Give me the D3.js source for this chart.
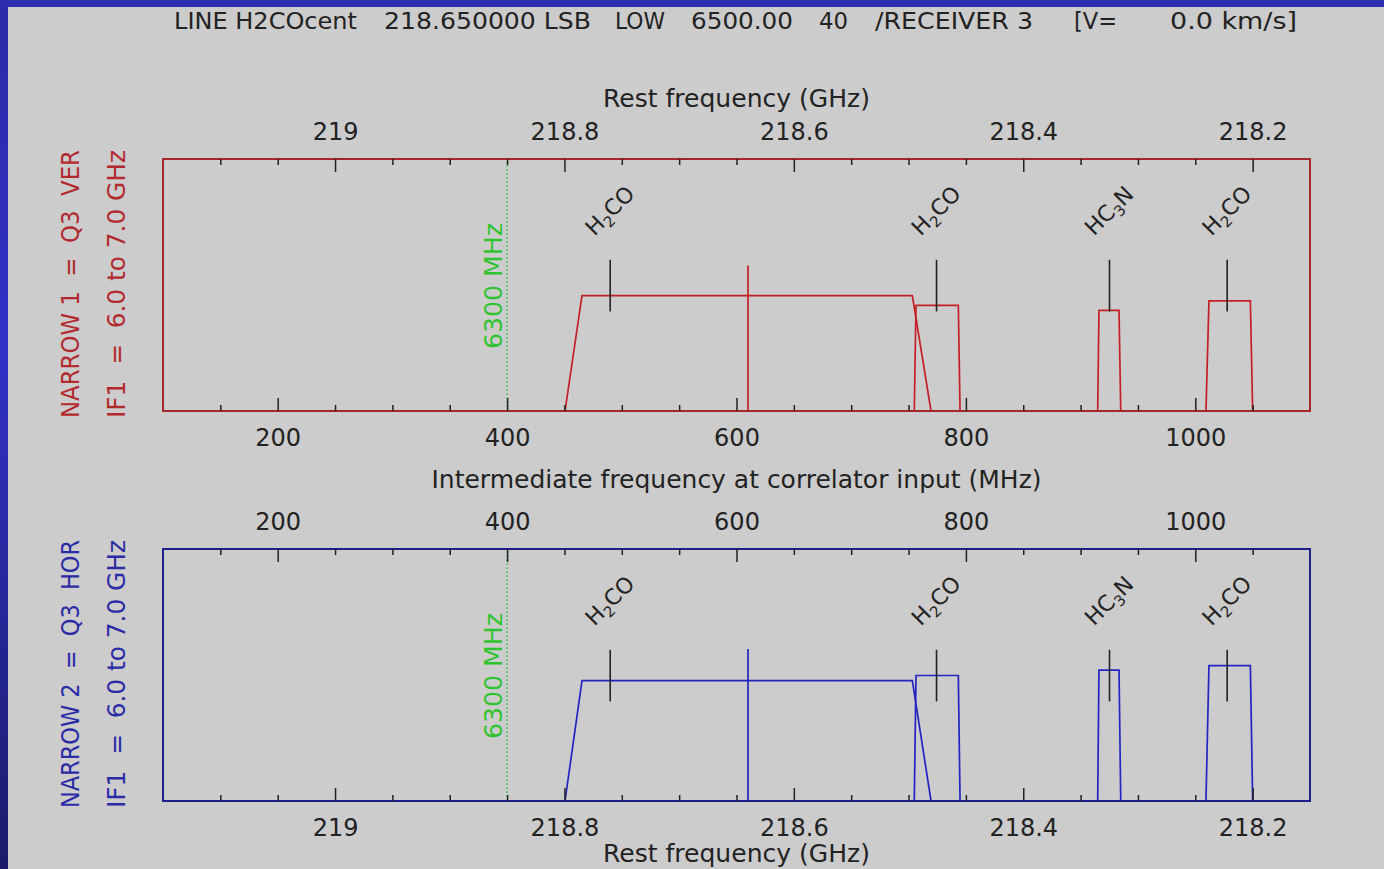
<!DOCTYPE html>
<html>
<head>
<meta charset="utf-8">
<script src="https://cdn.jsdelivr.net/npm/d3@7"></script>
<style>
  html, body { margin: 0; padding: 0; background: #cccccc; overflow: hidden; }
  svg { display: block; }
  text { font-family: "DejaVu Sans", "Liberation Sans", sans-serif; fill: #222; }
</style>
</head>
<body>
<svg id="chart" width="1384" height="869"></svg>
<script>
// ---- Correlator windows (IF at correlator input, MHz) ----
// each window: foot-low, shoulder-low, shoulder-high, foot-high
const windowEdgesMHz = [
  [450.5, 465.3, 753.3, 769.6],
  [755.0, 756.5, 793.4, 794.9],
  [914.9, 916.0, 933.5, 935.0],
  [1009.3, 1011.9, 1048.0, 1050.0]
];
// relative heights of the windows in each narrow-band unit
const levelsNarrow1 = [0.458, 0.419, 0.399, 0.437];
const levelsNarrow2 = [0.478, 0.498, 0.519, 0.537];

// tuning centre mark
const centreMarkMHz = 610;
const centreMarkLevels = [0.577, 0.603];

// spectral lines (rest frequency, GHz)
const lineNames = ["H2CO", "H2CO", "HC3N", "H2CO"];
const lineRestGHz = [218.7601, 218.4756, 218.3248, 218.2222];
const lineMarkRange = [0.395, 0.6];

// IF1 marker
const ifMarkerMHz = 400;
const ifMarkerLabel = "6300 MHz";

// axis ticks
const ifTickValues = [200, 400, 600, 800, 1000];
const ifTickLabels = ["200", "400", "600", "800", "1000"];
const restTickValues = [219, 218.8, 218.6, 218.4, 218.2];
const restTickLabels = ["219", "218.8", "218.6", "218.4", "218.2"];

const ifDomain = [100, 1100];
const restDomain = [219.15, 218.15];

const headerParts = [
  ["LINE H2COcent", 174, 183],
  ["218.650000 LSB", 384, 207],
  ["LOW", 615, 50],
  ["6500.00", 691, 102],
  ["40", 819, 29],
  ["/RECEIVER 3", 875, 158],
  ["[V=", 1074, 43],
  ["0.0 km/s]", 1170, 127]
];

const units = [
  { top: 159, bottom: 411, frame: "#a3282b", line: "#c41f25", text: "#b22a2e",
    label1: "NARROW 1  =  Q3  VER", label2: "IF1  =  6.0 to 7.0 GHz",
    levels: levelsNarrow1, centre: centreMarkLevels[0], topAxis: "rest" },
  { top: 549, bottom: 801, frame: "#1f1f8c", line: "#2424c2", text: "#2b2ba6",
    label1: "NARROW 2  =  Q3  HOR", label2: "IF1  =  6.0 to 7.0 GHz",
    levels: levelsNarrow2, centre: centreMarkLevels[1], topAxis: "if" }
];

const svg = d3.select("#chart");
const W = 1384, H = 869;

// page background with the blue border strip
const defs = svg.append("defs");
const grad = defs.append("linearGradient").attr("id", "edge")
  .attr("x1", 0).attr("y1", 0).attr("x2", 0).attr("y2", 1);
grad.append("stop").attr("offset", "0%").attr("stop-color", "#2a2aa6");
grad.append("stop").attr("offset", "40%").attr("stop-color", "#3131c8");
grad.append("stop").attr("offset", "100%").attr("stop-color", "#1b1b6a");

svg.append("rect").attr("width", W).attr("height", H).attr("fill", "#cccccc");
svg.append("rect").attr("x", 0).attr("y", 0).attr("width", 8).attr("height", H).attr("fill", "url(#edge)");
svg.append("rect").attr("x", 0).attr("y", 0).attr("width", W).attr("height", 7).attr("fill", "#2c2cb0");

// header line
const header = svg.append("g");
headerParts.forEach(([t, x0, len]) => {
  header.append("text")
    .attr("x", x0).attr("y", 29)
    .attr("textLength", len).attr("lengthAdjust", "spacingAndGlyphs")
    .style("font-size", "23px")
    .text(t);
});

const x = d3.scaleLinear().domain(ifDomain).range([163, 1310]);
const xRest = d3.scaleLinear().domain(restDomain).range([163, 1310]);

const ifMinor = d3.range(150, 1051, 50).filter(v => !ifTickValues.includes(v));
const restMinor = d3.range(0, 19).map(k => +(219.1 - k * 0.05).toFixed(2))
  .filter(v => !restTickValues.some(t => Math.abs(t - v) < 1e-6));

function styleAxis(g) {
  g.select(".domain").remove();
  g.attr("font-family", null).attr("font-size", null);
  g.selectAll(".tick line").attr("stroke", "#222").attr("stroke-width", 1.5);
  g.selectAll(".tick text").attr("fill", "#222").style("font-size", "24px");
}

function drawAxis(parent, which, side, yPos) {
  const scale = which === "if" ? x : xRest;
  const major = which === "if" ? ifTickValues : restTickValues;
  const labels = which === "if" ? ifTickLabels : restTickLabels;
  const minor = which === "if" ? ifMinor : restMinor;
  const gen = side === "top" ? d3.axisTop : d3.axisBottom;

  const gMin = parent.append("g").attr("transform", `translate(0,${yPos})`)
    .call(gen(scale).tickValues(minor).tickFormat("").tickSize(-6));
  styleAxis(gMin);

  const gMaj = parent.append("g").attr("transform", `translate(0,${yPos})`)
    .call(gen(scale).tickValues(major)
      .tickFormat(d => labels[major.findIndex(t => Math.abs(t - d) < 1e-9)])
      .tickSize(-13).tickPadding(19));
  styleAxis(gMaj);
  if (side === "bottom") {
    gMaj.selectAll(".tick text").attr("y", 35).attr("dy", null);
  } else {
    gMaj.selectAll(".tick text").attr("y", -19).attr("dy", null);
  }
}

function addLineName(sel, name, size) {
  const parts = name.match(/[A-Za-z]+|[0-9]+/g);
  let shifted = false;
  parts.forEach(p => {
    const isSub = /^[0-9]+$/.test(p);
    const ts = sel.append("tspan").text(p);
    if (isSub) {
      ts.style("font-size", (size * 0.68) + "px").attr("dy", 5);
      shifted = true;
    } else if (shifted) {
      ts.attr("dy", -5);
      shifted = false;
    }
  });
}

units.forEach(u => {
  const g = svg.append("g");
  const y = d3.scaleLinear().domain([0, 1]).range([u.bottom, u.top]);

  // IF1 marker
  g.append("line")
    .attr("x1", x(ifMarkerMHz)).attr("x2", x(ifMarkerMHz))
    .attr("y1", y(0)).attr("y2", y(1))
    .attr("stroke", "#2fc42f").attr("stroke-width", 1.5)
    .attr("stroke-dasharray", "1.5,2.5");
  g.append("text")
    .attr("transform", `translate(${x(ifMarkerMHz) - 5},${(u.top + u.bottom) / 2 + 1}) rotate(-90)`)
    .attr("text-anchor", "middle")
    .attr("textLength", 126).attr("lengthAdjust", "spacingAndGlyphs")
    .style("font-size", "24px").style("fill", "#2fc42f")
    .text(ifMarkerLabel);

  // correlator windows
  const path = d3.line().x(d => x(d[0])).y(d => y(d[1]));
  windowEdgesMHz.forEach((e, i) => {
    const lv = u.levels[i];
    g.append("path")
      .attr("d", path([[e[0], 0], [e[1], lv], [e[2], lv], [e[3], 0]]))
      .attr("fill", "none").attr("stroke", u.line).attr("stroke-width", 1.7);
  });

  // tuning centre
  g.append("line")
    .attr("x1", x(centreMarkMHz)).attr("x2", x(centreMarkMHz))
    .attr("y1", y(0)).attr("y2", y(u.centre))
    .attr("stroke", u.line).attr("stroke-width", 1.7);

  // spectral lines
  lineRestGHz.forEach((f, i) => {
    g.append("line")
      .attr("x1", xRest(f)).attr("x2", xRest(f))
      .attr("y1", y(lineMarkRange[0])).attr("y2", y(lineMarkRange[1]))
      .attr("stroke", "#222").attr("stroke-width", 1.6);
    const t = g.append("text")
      .attr("transform", `translate(${xRest(f) + 5},${u.top + 57}) rotate(-45)`)
      .attr("text-anchor", "middle")
      .style("font-size", "22px");
    addLineName(t, lineNames[i], 22);
  });

  // frame
  g.append("rect")
    .attr("x", 163).attr("y", u.top)
    .attr("width", 1310 - 163).attr("height", u.bottom - u.top)
    .attr("fill", "none").attr("stroke", u.frame).attr("stroke-width", 2);

  // axes
  if (u.topAxis === "rest") {
    drawAxis(g, "rest", "top", u.top);
    drawAxis(g, "if", "bottom", u.bottom);
  } else {
    drawAxis(g, "if", "top", u.top);
    drawAxis(g, "rest", "bottom", u.bottom);
  }

  // unit labels
  const cy = (u.top + u.bottom) / 2 - 1;
  [[u.label1, 79], [u.label2, 125]].forEach(([t, bx]) => {
    g.append("text")
      .attr("transform", `translate(${bx},${cy}) rotate(-90)`)
      .attr("text-anchor", "middle")
      .attr("textLength", 268).attr("lengthAdjust", "spacingAndGlyphs")
      .attr("xml:space", "preserve").style("white-space", "pre")
      .style("font-size", "24px").style("fill", u.text)
      .text(t);
  });
});

// axis titles
const titles = [
  ["Rest frequency (GHz)", 107, 267],
  ["Intermediate frequency at correlator input (MHz)", 488, 610],
  ["Rest frequency (GHz)", 862, 267]
];
titles.forEach(([t, by, len]) => {
  svg.append("text")
    .attr("x", 736.5).attr("y", by)
    .attr("text-anchor", "middle")
    .attr("textLength", len).attr("lengthAdjust", "spacingAndGlyphs")
    .style("font-size", "24px")
    .text(t);
});
</script>
</body>
</html>
